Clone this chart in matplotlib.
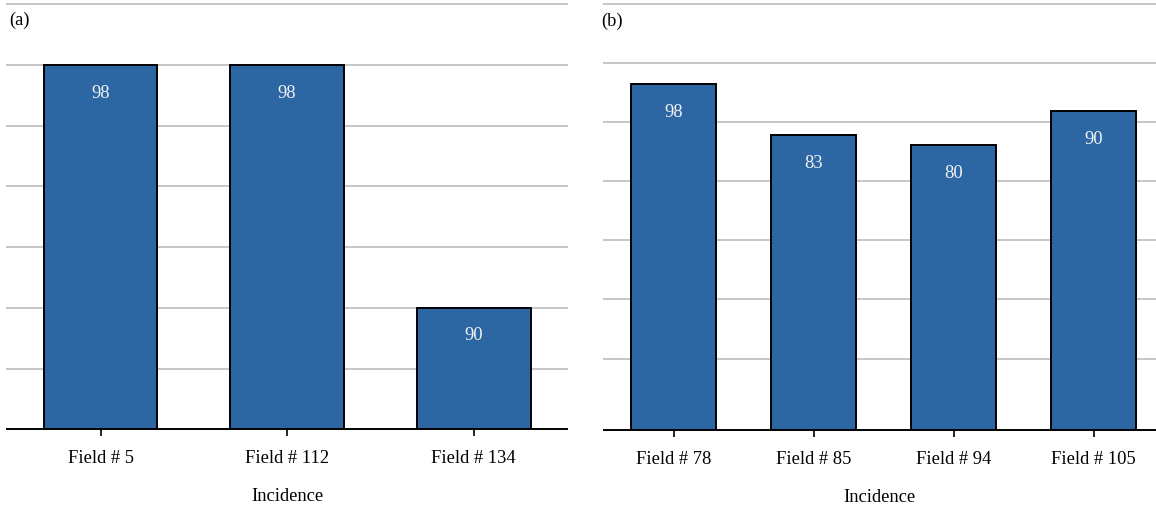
import numpy as np
import matplotlib
matplotlib.use('Agg')
import matplotlib.pyplot as plt

# incidence per field, two sampling groups
fields_a = ['Field # 5', 'Field # 112', 'Field # 134']
incidence_a = [98, 98, 90]
fields_b = ['Field # 78', 'Field # 85', 'Field # 94', 'Field # 105']
incidence_b = [98, 83, 80, 90]

barColor = '#2c66a3'
gridColor = '#c6c6c6'

plt.rcParams.update({'font.family': ['Liberation Serif', 'DejaVu Serif'],
                     'font.size': 13.3})


def panel(ax, labels, values, tag, ylim, yticks, xlim):
    x = np.arange(len(labels))
    # bars stand on the bottom of the axis
    heights = [v - ylim[0] for v in values]
    ax.bar(x, heights, bottom=ylim[0], width=0.61, color=barColor, edgecolor='black', linewidth=1.4, zorder=3)
    for xi, v in zip(x, values):
        ax.annotate('{:d}'.format(v), (xi, v), xytext=(0, -19.5), textcoords='offset points',
                    ha='center', va='center', color='#f2f2f2', zorder=4)
    ax.set_ylim(ylim)
    ax.set_xlim(xlim)
    ax.set_yticks(yticks)
    ax.yaxis.grid(True, color=gridColor, lw=1.4)
    for gl in ax.get_ygridlines():
        gl.set_clip_on(False)
    ax.set_axisbelow(True)
    ax.tick_params(axis='y', length=0, labelleft=False)
    ax.set_xticks(x)
    ax.set_xticklabels(labels)
    ax.tick_params(axis='x', length=5, width=1.2, pad=9.5, color='black')
    for side in ['top', 'left', 'right']:
        ax.spines[side].set_visible(False)
    ax.spines['bottom'].set_linewidth(1.4)
    ax.spines['bottom'].set_zorder(5)
    ax.set_xlabel('Incidence', labelpad=15)
    ax.text(0.0, 0.0, tag, transform=ax.transAxes)
    return ax


fig = plt.figure(figsize=(11.56, 5.06), dpi=100)
axA = fig.add_axes([7.3/1156, 75.7/506, (567-7.3)/1156, 425.0/506])
axB = fig.add_axes([603.7/1156, 75.0/506, (1156-603.7)/1156, 425.7/506])

panel(axA, fields_a, incidence_a, '(a)', (86, 100), np.arange(88, 101, 2), (-0.5, 2.5))
ylimB = (-3.7, 121.4)
stepB = 17.35
panel(axB, fields_b, incidence_b, '(b)', ylimB, np.arange(ylimB[1], 0, -stepB), (-0.5, 3.445))

# panel tags sit just below the top gridline
axA.texts[-1].set_position((1.5/559.7, 1 - 15/425.0))
axA.texts[-1].set_va('center')
axB.texts[-1].set_position((-2.5/552.3, 1 - 16/425.7))
axB.texts[-1].set_va('center')

plt.savefig('out.png', dpi=100)
plt.close()
